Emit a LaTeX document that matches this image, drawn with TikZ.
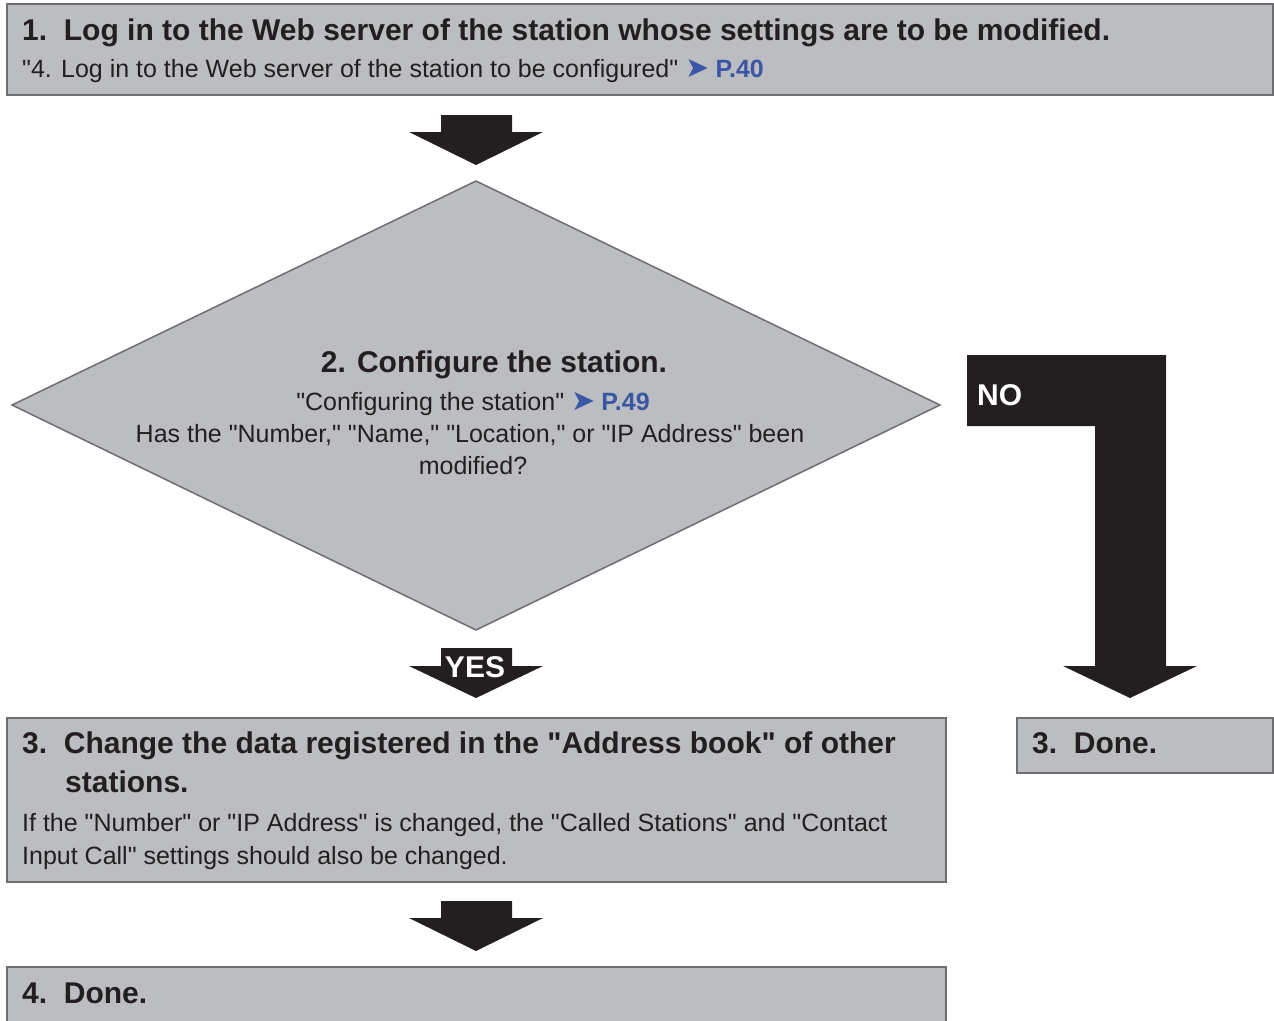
\documentclass[tikz,border=0pt]{standalone}
\usepackage{fontspec}
\setmainfont{Liberation Sans}[Ligatures=TeXOff]
\newfontfamily\symfont{DejaVu Sans}[Scale=1.15]
\definecolor{boxgray}{HTML}{BCBDC0}
\definecolor{edgegray}{HTML}{6D6E71}
\definecolor{ink}{HTML}{231F20}
\definecolor{linkblue}{HTML}{3A56A6}
\newcommand{\pref}[1]{\textcolor{linkblue}{{\symfont ➤}\hspace{0.25em}\textbf{#1}}}
\tikzset{
  stepbox/.style={draw=edgegray, line width=2pt, fill=boxgray},
  blockarrow/.style={fill=ink, draw=none},
  title/.style={anchor=base west, inner sep=0pt, font=\fontsize{30}{39}\selectfont\bfseries, text=ink},
  body/.style={anchor=base west, inner sep=0pt, font=\fontsize{25}{33}\selectfont, text=ink},
  bodyc/.style={anchor=base, inner sep=0pt, font=\fontsize{25}{33}\selectfont, text=ink},
  label/.style={anchor=base, inner sep=0pt, font=\fontsize{30}{33}\selectfont\bfseries, text=white}
}
\begin{document}
\begin{tikzpicture}[x=1pt,y=-1pt]
\useasboundingbox (0,0) rectangle (1274,1020);
% boxes
\draw[stepbox] (7,4) rectangle (1273,95);
\draw[stepbox, line width=1.5pt] (476,181) -- (940,405) -- (476,630) -- (12,405) -- cycle;
\draw[stepbox] (7,718) rectangle (946,882);
\draw[stepbox] (1017,718) rectangle (1273,773);
\draw[stepbox] (7,967) rectangle (946,1030);
% arrows
\fill[blockarrow] (441,115) -- (512,115) -- (512,132) -- (543,132) -- (476,165) -- (409,132) -- (441,132) -- cycle;
\fill[blockarrow] (441,648) -- (512,648) -- (512,666) -- (543,666) -- (476,698) -- (409,666) -- (441,666) -- cycle;
\fill[blockarrow] (441,901) -- (512,901) -- (512,918) -- (543,918) -- (476,951) -- (409,918) -- (441,918) -- cycle;
\fill[blockarrow] (967,355) -- (1166,355) -- (1166,666) -- (1197,666) -- (1130,698) -- (1063,666) -- (1095,666) -- (1095,426) -- (967,426) -- cycle;
% texts
\node[title] (t1) at (22,40) {1.\ \ Log in to the Web server of the station whose settings are to be modified.};
\node[body] (s1) at (22,77) {"4. Log in to the Web server of the station to be configured" \pref{P.40}};
\node[title, anchor=base] (t2) at (494,372) {2. Configure the station.};
\node[bodyc] (s2a) at (473,410) {"Configuring the station" \pref{P.49}};
\node[bodyc] (s2b) at (470,442) {Has the "Number," "Name," "Location," or "IP Address" been};
\node[bodyc] (s2c) at (473,474) {modified?};
\node[label, anchor=base west] (no) at (977,405) {NO};
\node[label] (yes) at (475,677) {YES};
\node[title] (t3) at (22,753) {3.\ \ Change the data registered in the "Address book" of other};
\node[title] (t3b) at (65,792) {stations.};
\node[body] (s3a) at (22,831) {If the "Number" or "IP Address" is changed, the "Called Stations" and "Contact};
\node[body] (s3b) at (22,864) {Input Call" settings should also be changed.};
\node[title] (t3r) at (1032,753) {3.\ \ Done.};
\node[title] (t4) at (22,1003) {4.\ \ Done.};
\end{tikzpicture}
\end{document}
